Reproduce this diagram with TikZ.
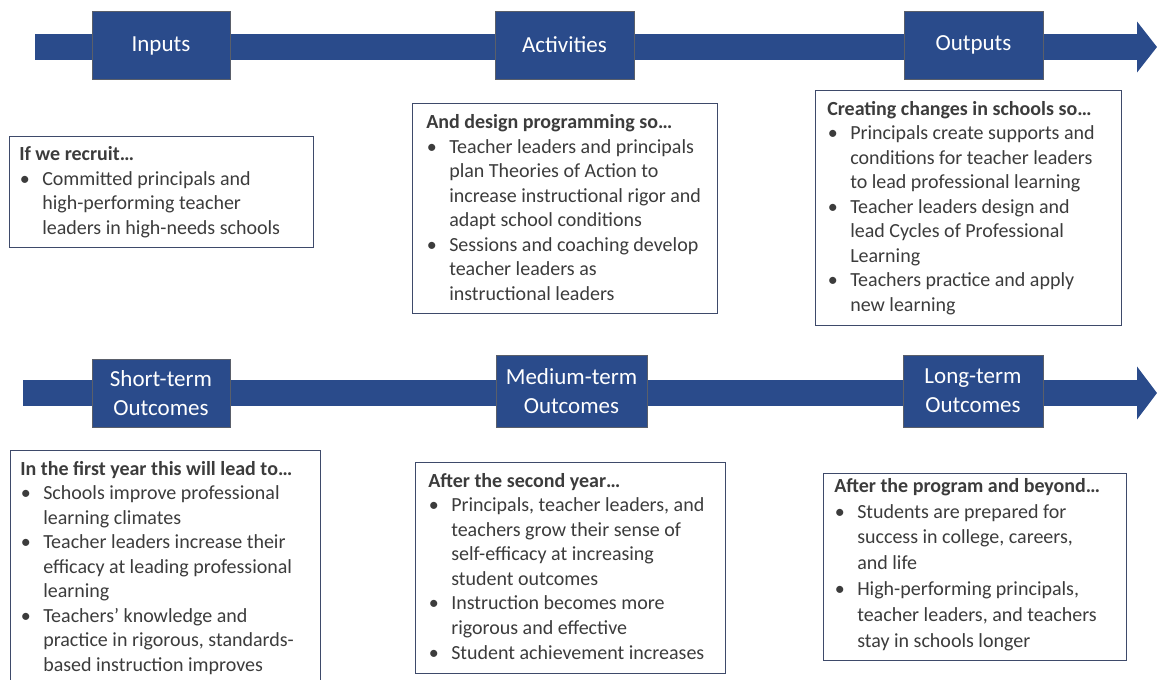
\documentclass[tikz,border=0pt]{standalone}
\usepackage{fontspec}
\setmainfont{Carlito}
\usetikzlibrary{arrows.meta}
\definecolor{arrowblue}{HTML}{2A4B8B}
\definecolor{boxline}{HTML}{3E4A6A}
\definecolor{labelline}{HTML}{5A5F6A}
\definecolor{bodytext}{HTML}{3C3C3C}
\newcommand{\bodysize}{\fontsize{15}{18.4}\selectfont}
\newcommand{\widesize}{\fontsize{15}{19.35}\selectfont}
\newcommand{\labelsize}{\fontsize{17.25}{21.75}\selectfont}
\newcommand{\bl}[1]{\makebox[17.25pt][l]{\hspace{0.5pt}•}#1}
\newcommand{\cl}[1]{\hspace*{17.25pt}#1}
\tikzset{
  stagebox/.style={fill=arrowblue, draw=labelline, line width=0.6pt, text=white,
    font=\labelsize, align=center, inner sep=0pt},
  textframe/.style={draw=boxline, line width=0.9pt, fill=white, inner sep=0pt, anchor=north west},
  textbody/.style={text=bodytext, font=\bodysize, align=left, inner sep=0pt, anchor=base west},
}
\begin{document}
\begin{tikzpicture}[x=0.75pt, y=-0.75pt]
\useasboundingbox (0,0) rectangle (1157,679);

% top flow arrow
\coordinate (t0) at (35,47);
\coordinate (t1) at (1157,47);
\draw[arrowblue, line width=19.5pt, -{Triangle[width=37.5pt,length=15pt]}] (t0) -- (t1);

% bottom flow arrow
\coordinate (b0) at (23,393);
\coordinate (b1) at (1157,393);
\draw[arrowblue, line width=20pt, -{Triangle[width=39pt,length=15pt]}] (b0) -- (b1);

% stage boxes
\node[stagebox, minimum width=103.5pt, minimum height=51pt] (inp) at (161,45.5) {Inputs};
\node[stagebox, minimum width=104.25pt, minimum height=51pt] (act) at (564.5,45) {Activities};
\node[stagebox, minimum width=104.25pt, minimum height=51pt] (out) at (973.5,45) {Outputs};
\node[stagebox, minimum width=103.5pt, minimum height=51pt] (st) at (161,393) {Short-term\\Outcomes};
\node[stagebox, minimum width=113.25pt, minimum height=54pt] (mt) at (571.5,391) {Medium-term\\Outcomes};
\node[stagebox, minimum width=105pt, minimum height=54pt] (lt) at (973,391) {Long-term\\Outcomes};

% text frames
\node[textframe, minimum width=228pt, minimum height=83.25pt] (f1) at (9,136) {};
\node[textframe, minimum width=228.75pt, minimum height=157.5pt] (f2) at (412,103) {};
\node[textframe, minimum width=229.5pt, minimum height=176.25pt] (f3) at (815,90) {};
\node[textframe, minimum width=232.5pt, minimum height=176pt] (f4) at (10,450) {};
\node[textframe, minimum width=232.5pt, minimum height=158.25pt] (f5) at (415,462) {};
\node[textframe, minimum width=227.25pt, minimum height=140.25pt] (f6) at (823,473) {};

% texts (anchored at the baseline of their last line)
\node[textbody] (t1b) at (19,234.5) {\textbf{If we recruit…}\\
\bl{Committed principals and}\\
\cl{high-performing teacher}\\
\cl{leaders in high-needs schools}};

\node[textbody] (t2b) at (426,300.5) {\textbf{And design programming so…}\\
\bl{Teacher leaders and principals}\\
\cl{plan Theories of Action to}\\
\cl{increase instructional rigor and}\\
\cl{adapt school conditions}\\
\bl{Sessions and coaching develop}\\
\cl{teacher leaders as}\\
\cl{instructional leaders}};

\node[textbody] (t3b) at (827,311.5) {\textbf{Creating changes in schools so…}\\
\bl{Principals create supports and}\\
\cl{conditions for teacher leaders}\\
\cl{to lead professional learning}\\
\bl{Teacher leaders design and}\\
\cl{lead Cycles of Professional}\\
\cl{Learning}\\
\bl{Teachers practice and apply}\\
\cl{new learning}};

\node[textbody] (t4b) at (20,671.5) {\textbf{In the first year this will lead to…}\\
\bl{Schools improve professional}\\
\cl{learning climates}\\
\bl{Teacher leaders increase their}\\
\cl{efficacy at leading professional}\\
\cl{learning}\\
\bl{Teachers’ knowledge and}\\
\cl{practice in rigorous, standards-}\\
\cl{based instruction improves}};

\node[textbody] (t5b) at (428,659) {\textbf{After the second year…}\\
\bl{Principals, teacher leaders, and}\\
\cl{teachers grow their sense of}\\
\cl{self-efficacy at increasing}\\
\cl{student outcomes}\\
\bl{Instruction becomes more}\\
\cl{rigorous and effective}\\
\bl{Student achievement increases}};

\node[textbody, font=\widesize] (t6b) at (834,647) {\textbf{After the program and beyond…}\\
\bl{Students are prepared for}\\
\cl{success in college, careers,}\\
\cl{and life}\\
\bl{High-performing principals,}\\
\cl{teacher leaders, and teachers}\\
\cl{stay in schools longer}};
\end{tikzpicture}
\end{document}
